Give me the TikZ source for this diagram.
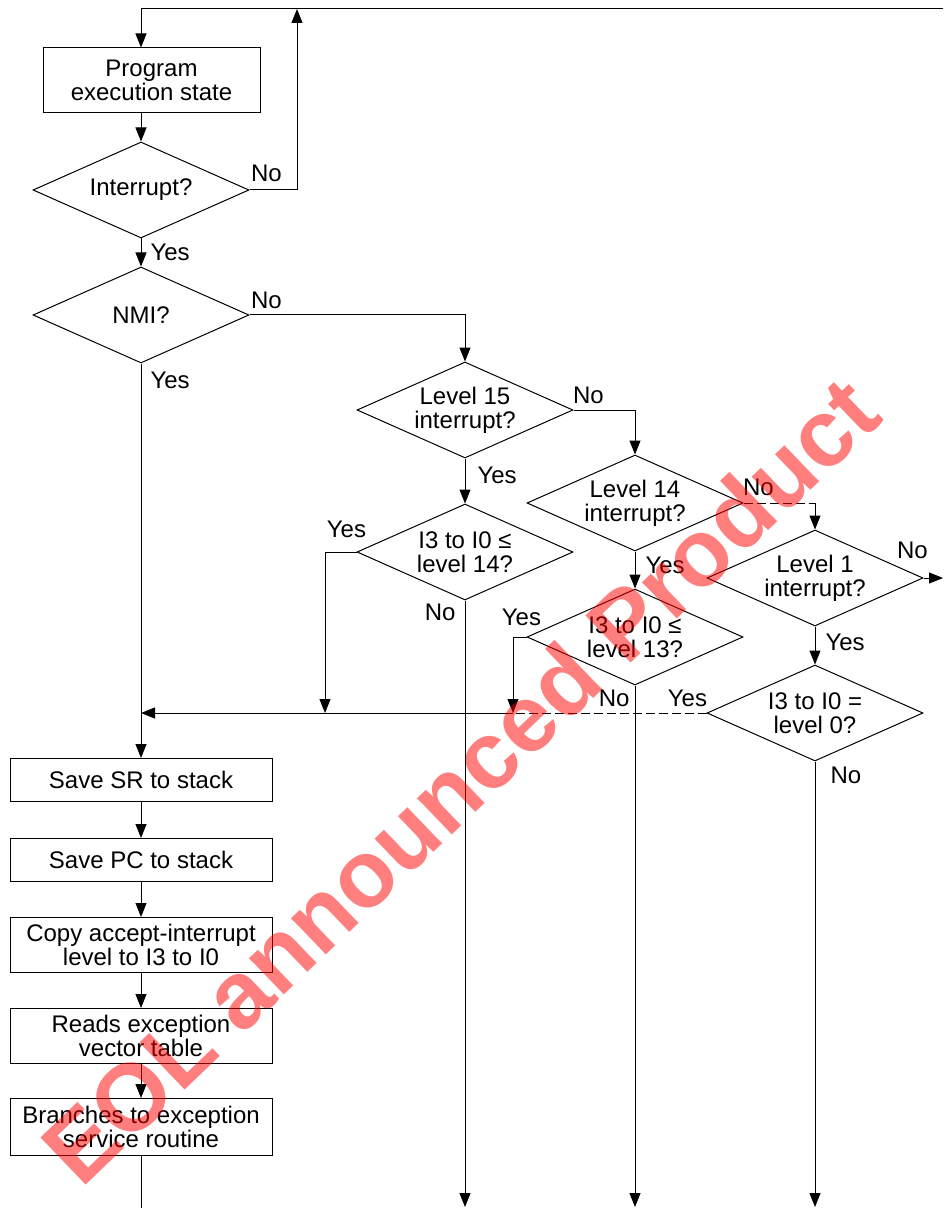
\documentclass[tikz,border=0pt]{standalone}
\usepackage{fontspec}
\setmainfont{Liberation Sans}
\usetikzlibrary{arrows.meta, shapes.geometric, positioning}

\begin{document}
\begin{tikzpicture}[
    x=0.5pt, y=-0.5pt, line width=0.5pt,
    ->, >={Triangle[length=7pt, width=5.5pt]}, node distance=40pt,
    every node/.style={align=center, font=\fontsize{12}{12}\selectfont},
    box/.style={draw, rectangle, inner sep=0pt, minimum width=131pt, minimum height=21.5pt},
    decision/.style={draw, diamond, aspect=2.25, inner sep=0pt, minimum width=108pt, minimum height=48pt},
    lbl/.style={inner sep=0pt},
    dashline/.style={dash pattern=on 4.5pt off 2pt}
]
\useasboundingbox (0,0) rectangle (943,1208);

\node (prog) [box, minimum width=108.5pt, minimum height=32.5pt] at (151.5,80.5) {Program\\execution state};
\node (int) [decision] at (141,190) {Interrupt?};
\node (nmi) [decision, below of=int, yshift=-22.5pt] {NMI?};
\node (lv15) [decision] at (465,410) {Level 15\\interrupt?};
\node (lv14) [decision] at (635,503) {Level 14\\interrupt?};
\node (le14) [decision, below of=lv15, yshift=-31pt] {I3 to I0 ≤\\level 14?};
\node (le13) [decision, below of=lv14, yshift=-27pt] {I3 to I0 ≤\\level 13?};
\node (lv1) [decision] at (815,578) {Level 1\\interrupt?};
\node (eq0) [decision, below of=lv1, yshift=-27.5pt] {I3 to I0 =\\level 0?};
\node (sr) [box] at (141,780) {Save SR to stack};
\node (pc) [box, below of=sr] {Save PC to stack};
\node (cpy) [box, below of=pc, yshift=-2.5pt, minimum height=27.5pt] {Copy accept-interrupt\\level to I3 to I0};
\node (vec) [box, below of=cpy, yshift=-5.5pt, minimum height=27.5pt] {Reads exception\\vector table};
\node (isr) [box, below of=vec, yshift=-5.5pt, minimum height=28.5pt] {Branches to exception\\service routine};

\coordinate (topright) at (943,9);
\coordinate (loopup) at (297,9);
\coordinate (join14) at (325,713);
\coordinate (join13) at (513,713);
\coordinate (exit14) at (465,1207);
\coordinate (exit13) at (635,1207);
\coordinate (exit0) at (815,1207);
\coordinate (exit1) at (943,578);
\coordinate (isrend) at (141,1208);

% main loop
\draw (topright) -| (int.north |- prog.north);
\draw (prog.south -| int.north) -- (int.north);
\draw (int.east) -| node (intno) [lbl, pos=0, anchor=base west, xshift=0.5pt, yshift=4pt] {No} (loopup);
\draw (int.south) -- node (intyes) [lbl, pos=0, anchor=base west, xshift=4.5pt, yshift=-11pt] {Yes} (nmi.north);
\draw (nmi.east) -| node (nmino) [lbl, pos=0, anchor=base west, xshift=0.5pt, yshift=3.5pt] {No} (lv15.north);
\draw (nmi.south) -- node (nmiyes) [lbl, pos=0, anchor=base west, xshift=4.5pt, yshift=-12.5pt] {Yes} (sr.north);

% level 15
\draw (lv15.east) -| node (lv15no) [lbl, pos=0, anchor=base west, xshift=-0.5pt, yshift=3.5pt] {No} (lv14.north);
\draw (lv15.south) -- node (lv15yes) [lbl, pos=0, anchor=base west, xshift=6pt, yshift=-12.5pt] {Yes} (le14.north);
\draw (le14.west) -| node (le14yes) [lbl, pos=0, anchor=base east, xshift=5pt, yshift=7.5pt] {Yes} (join14);
\draw (le14.south) -- node (le14no) [lbl, pos=0, anchor=base east, xshift=-4.5pt, yshift=-10pt] {No} (exit14);

% level 14
\draw[-, dashline] (lv14.east) -- node (lv14no) [lbl, pos=0, anchor=base west, xshift=-0.5pt, yshift=4pt] {No} (lv14.east -| lv1.north);
\draw (lv14.east -| lv1.north) -- (lv1.north);
\draw (lv14.south) -- node (lv14yes) [lbl, pos=0, anchor=base west, xshift=5pt, yshift=-11pt] {Yes} (le13.north);
\draw (le13.west) -| node (le13yes) [lbl, pos=0, anchor=base east, xshift=7.5pt, yshift=6pt] {Yes} (join13);
\draw (le13.south) -- node (le13no) [lbl, pos=0, anchor=base east, xshift=-2.5pt, yshift=-10.5pt] {No} (exit13);

% level 1
\draw (lv1.east) -- node (lv1no) [lbl, pos=0, anchor=base west, xshift=-13.5pt, yshift=10pt] {No} (exit1);
\draw (lv1.south) -- node (lv1yes) [lbl, pos=0, anchor=base west, xshift=5pt, yshift=-12pt] {Yes} (eq0.north);
\draw[-, dashline] (eq0.west) -- node (eq0yes) [lbl, pos=0, anchor=base east, xshift=0.5pt, yshift=3.5pt] {Yes} (join13);
\draw (join13) -- (join13 -| nmi.south);
\draw (eq0.south) -- node (eq0no) [lbl, pos=0, anchor=base west, xshift=7.5pt, yshift=-11pt] {No} (exit0);

% accept sequence
\draw (sr) -- (pc);
\draw (pc) -- (cpy);
\draw (cpy) -- (vec);
\draw (vec) -- (isr);
\draw[-] (isr.south) -- (isrend);

\node (eol) [rotate=43.8, text=red, text opacity=0.5, font=\fontsize{47.5}{47.5}\selectfont\bfseries] at (460,780) {EOL announced Product};
\end{tikzpicture}
\end{document}
